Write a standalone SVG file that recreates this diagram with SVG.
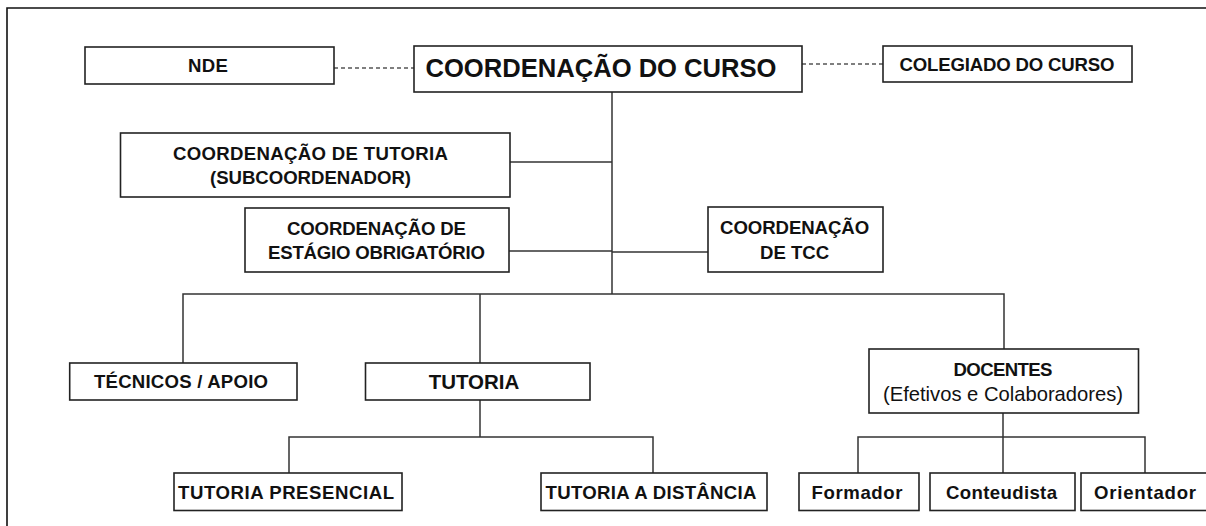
<svg xmlns="http://www.w3.org/2000/svg" width="1206" height="526" viewBox="0 0 1206 526">
<style>
.box{fill:#fff;stroke:#222;stroke-width:1.6}
.t{font-family:"Liberation Sans",Arial,sans-serif;font-weight:bold;font-size:18.6px;fill:#111;text-anchor:middle}
.r{font-weight:normal}
.ln{fill:none;stroke:#333;stroke-width:1.5}
.dash{fill:none;stroke:#555;stroke-width:1.5;stroke-dasharray:4 3}
</style>
<rect x="0" y="0" width="1206" height="526" fill="#fff"/>
<path d="M7,526 V8 H1206" fill="none" stroke="#111" stroke-width="1.6"/>
<g id="connectors">
<line class="dash" x1="334" y1="68" x2="414" y2="68"/>
<line class="dash" x1="802" y1="64" x2="883" y2="64"/>
<path class="ln" d="M612,92 V294"/>
<path class="ln" d="M510,162 H612"/>
<path class="ln" d="M509,251 H612"/>
<path class="ln" d="M612,252 H708"/>
<path class="ln" d="M183,363 V294 H1004 V349"/>
<path class="ln" d="M480,294 V363"/>
<path class="ln" d="M480,400 V437"/>
<path class="ln" d="M289,473 V437 H653 V473"/>
<path class="ln" d="M1003,413 V473"/>
<path class="ln" d="M858,473 V437 H1145 V473"/>
</g>
<g id="nde"><rect class="box" x="85" y="47" width="249" height="37"/><text class="t" x="208" y="72" textLength="40">NDE</text></g>
<g id="coordenacao-curso"><rect class="box" x="414" y="46" width="388" height="46"/><text class="t" x="601" y="77" style="font-size:25.6px" textLength="351">COORDENAÇÃO DO CURSO</text></g>
<g id="colegiado"><rect class="box" x="883" y="46" width="249" height="36"/><text class="t" x="1007" y="70.5" textLength="215">COLEGIADO DO CURSO</text></g>
<g id="coord-tutoria"><rect class="box" x="120.5" y="133" width="389.5" height="64"/><text class="t" x="310.5" y="159.7" textLength="275">COORDENAÇÃO DE TUTORIA</text><text class="t" x="310.5" y="183.7" textLength="201">(SUBCOORDENADOR)</text></g>
<g id="coord-estagio"><rect class="box" x="245" y="208" width="264" height="64"/><text class="t" x="376.5" y="235" textLength="179">COORDENAÇÃO DE</text><text class="t" x="376.5" y="259" textLength="217">ESTÁGIO OBRIGATÓRIO</text></g>
<g id="coord-tcc"><rect class="box" x="708" y="207" width="175" height="65"/><text class="t" x="794.6" y="234" textLength="149">COORDENAÇÃO</text><text class="t" x="794.6" y="258.5">DE TCC</text></g>
<g id="tecnicos"><rect class="box" x="69.7" y="363" width="227.3" height="37"/><text class="t" x="181" y="388" textLength="174">TÉCNICOS / APOIO</text></g>
<g id="tutoria"><rect class="box" x="365.5" y="363" width="224.5" height="37"/><text class="t" x="474" y="388.5" style="font-size:20.5px">TUTORIA</text></g>
<g id="docentes"><rect class="box" x="869" y="349" width="269.5" height="64"/><text class="t" x="1003" y="376" textLength="99">DOCENTES</text><text class="t r" x="1003" y="401" style="font-size:20.2px">(Efetivos e Colaboradores)</text></g>
<g id="tutoria-presencial"><rect class="box" x="174" y="473" width="228" height="37.5"/><text class="t" x="286" y="498.5" textLength="216">TUTORIA PRESENCIAL</text></g>
<g id="tutoria-distancia"><rect class="box" x="541" y="473" width="226" height="37.5"/><text class="t" x="651" y="498.5" textLength="211">TUTORIA A DISTÂNCIA</text></g>
<g id="formador"><rect class="box" x="799" y="473" width="120" height="37.5"/><text class="t" x="857" y="498.5" textLength="91">Formador</text></g>
<g id="conteudista"><rect class="box" x="930" y="473" width="145" height="37.5"/><text class="t" x="1001.5" y="498.5" textLength="111">Conteudista</text></g>
<g id="orientador"><rect class="box" x="1081" y="473" width="135" height="37.5"/><text class="t" x="1145" y="498.5" textLength="102">Orientador</text></g>
</svg>
